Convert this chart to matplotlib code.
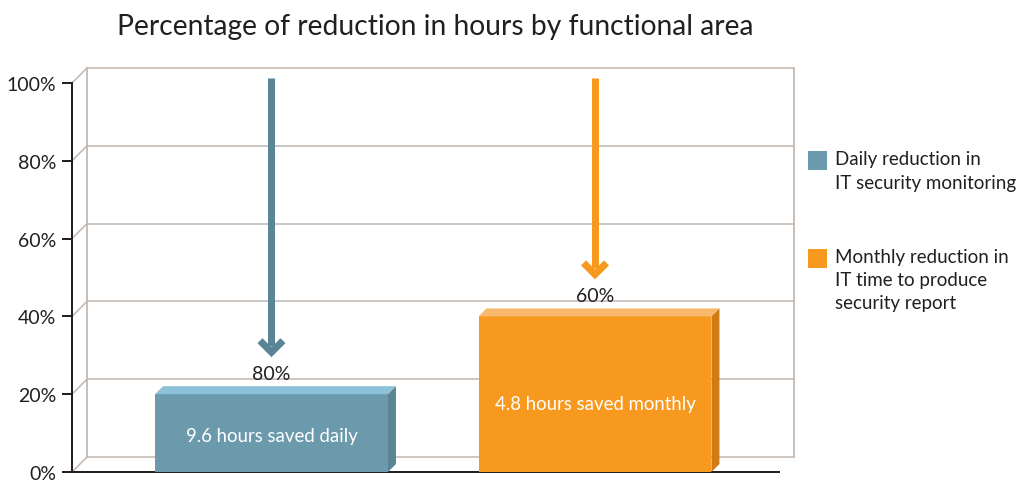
import matplotlib
matplotlib.use("Agg")
import matplotlib.pyplot as plt
from matplotlib.patches import Polygon, Rectangle

# ---------------- data ----------------
categories = ["Daily reduction in\nIT security monitoring",
              "Monthly reduction in\nIT time to produce\nsecurity report"]
remaining_pct = [20, 40]
reduction_labels = ["80%", "60%"]
bar_texts = ["9.6 hours saved daily", "4.8 hours saved monthly"]
yticks = [0, 20, 40, 60, 80, 100]
ytick_labels = ["0%", "20%", "40%", "60%", "80%", "100%"]
title = "Percentage of reduction in hours by functional area"

# ---------------- style ----------------
FONT = "Lato"
plt.rcParams["font.family"] = [FONT, "DejaVu Sans"]
front_c = ["#6b9aad", "#f7991f"]
top_c = ["#8cc1d7", "#f9b96f"]
side_c = ["#5b8494", "#cf7c17"]
arrow_c = ["#5b8596", "#f7991f"]
grid_c = "#c2b9b2"
ink = "#231f20"
label_frac = [0.47, 0.44]

W, H = 1016, 481
fig = plt.figure(figsize=(W / 100, H / 100), dpi=100)
L, R, B, T = 72, 779, 473, 84
ax = fig.add_axes([L / W, 1 - B / H, (R - L) / W, (B - T) / H])
x = [0, 1]
x0, x1 = -0.6167, 1.5688
ax.set_xlim(x0, x1)
ax.set_ylim(0, 100)
ppx = (R - L) / (x1 - x0)
ppy = (B - T) / 100.0


def dx(p):
    return p / ppx


def dy(p):
    return p / ppy


PT = 0.72  # points per pixel

# back wall
D = 15
for v in yticks:
    ax.plot([x0 + dx(D), x1 + dx(D)], [v + dy(D)] * 2, color=grid_c, lw=1.6 * PT,
            clip_on=False, zorder=1, solid_capstyle="butt")
    ax.plot([x0, x0 + dx(D)], [v, v + dy(D)], color=grid_c, lw=1.6 * PT,
            clip_on=False, zorder=1)
for xx in (x0 + dx(D), x1 + dx(D)):
    ax.plot([xx, xx], [dy(D), 100 + dy(D)], color=grid_c, lw=1.8 * PT,
            clip_on=False, zorder=1)

# bars
bw = 0.72
d = 8
ax.bar(x, remaining_pct, width=bw, color=front_c, zorder=3, linewidth=0)
for i, v in enumerate(remaining_pct):
    xl, xr = x[i] - bw / 2, x[i] + bw / 2
    ax.add_patch(Polygon([(xl, v), (xl + dx(d), v + dy(d)), (xr + dx(d), v + dy(d)), (xr, v)],
                         closed=True, facecolor=top_c[i], edgecolor="none", zorder=3))
    ax.add_patch(Polygon([(xr, 0), (xr, v), (xr + dx(d), v + dy(d)), (xr + dx(d), dy(d))],
                         closed=True, facecolor=side_c[i], edgecolor="none", zorder=3))
    ax.text(x[i], v * label_frac[i], bar_texts[i], color="white", ha="center",
            va="center", fontsize=13.4, zorder=5)

    # arrow
    tip = v + dy(37)
    ax.plot([x[i], x[i]], [100 + dy(5), tip + dy(11)], color=arrow_c[i],
            lw=7 * PT, solid_capstyle="butt", zorder=4, clip_on=False)
    hw, hh, th = 14, 14, 10
    pts = [(0, 0), (-hw, hh), (-hw + 5, hh + 5), (0, th), (hw - 5, hh + 5), (hw, hh)]
    ax.add_patch(Polygon([(x[i] + dx(px), tip + dy(py)) for px, py in pts], closed=True,
                         facecolor=arrow_c[i], edgecolor="none", zorder=4))
    ax.text(x[i], v + dy(21), reduction_labels[i], color=ink, ha="center",
            va="center", fontsize=14, zorder=5)

# axes styling
for s in ("top", "right"):
    ax.spines[s].set_visible(False)
for s in ("left", "bottom"):
    ax.spines[s].set_color(ink)
    ax.spines[s].set_linewidth(2 * PT)
ax.set_xticks([])
ax.set_yticks(yticks)
ax.set_yticklabels(ytick_labels)
ax.tick_params(axis="y", length=10 * PT, width=2 * PT, color=ink, labelcolor=ink,
               labelsize=14, pad=4)
ax.patch.set_alpha(0)

# title
fig.text(435 / W, 1 - 27 / H, title, ha="center", va="center", fontsize=20.3, color=ink)

# legend
leg_tops = [152, 250]
for i, cat in enumerate(categories):
    top = leg_tops[i]
    fig.patches.append(Rectangle((808 / W, 1 - (top + 19) / H), 19 / W, 19 / H,
                                 transform=fig.transFigure, facecolor=front_c[i],
                                 edgecolor="none"))
    for j, line in enumerate(cat.split("\n")):
        fig.text(835 / W, 1 - (top + 8 + 23 * j) / H, line, ha="left", va="center",
                 fontsize=13.5, color=ink)

fig.savefig("out.png", dpi=100)
